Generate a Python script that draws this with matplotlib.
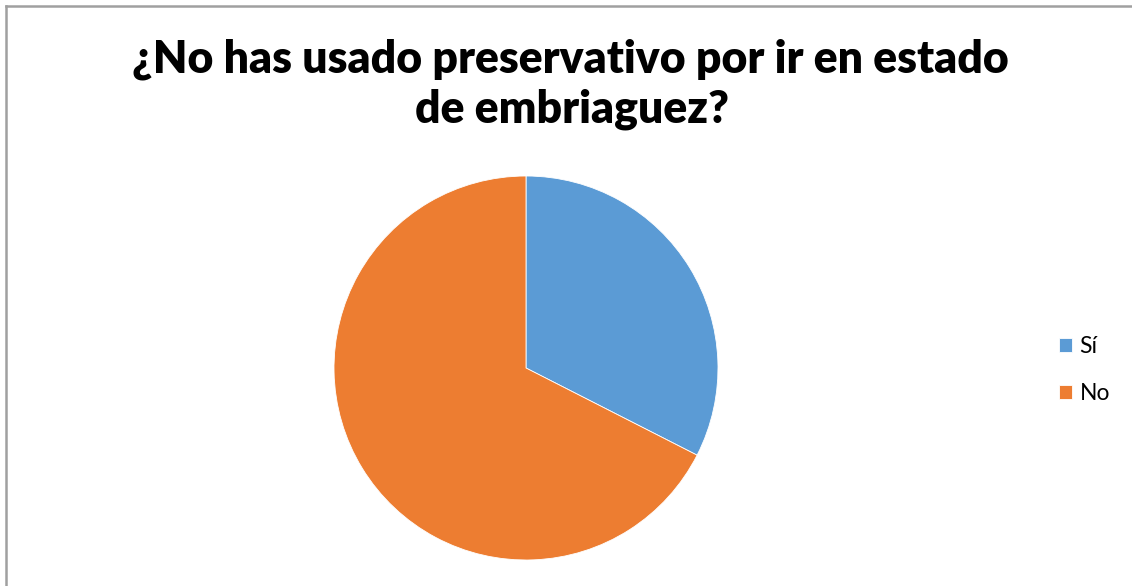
import matplotlib
matplotlib.use("Agg")
import matplotlib.pyplot as plt
from matplotlib.lines import Line2D

labels = ["Sí", "No"]
values = [13, 27]
colors = ["#5B9BD5", "#ED7D31"]
title_lines = ["¿No has usado preservativo por ir en estado", "de embriaguez?"]

W, H = 1132, 586
fig = plt.figure(figsize=(W / 100, H / 100), dpi=100)
fig.patch.set_facecolor("white")

# chart area frame (top and left edges visible)
fig.add_artist(Line2D([5.5 / W, 5.5 / W], [0, 1 - 5.5 / H], transform=fig.transFigure,
                      color="#A0A0A0", lw=1.8))
fig.add_artist(Line2D([5.5 / W, 1], [1 - 5.5 / H, 1 - 5.5 / H], transform=fig.transFigure,
                      color="#A0A0A0", lw=1.8))

# pie
cx, cy, r = 526, 368, 192
ax = fig.add_axes([(cx - r) / W, (H - cy - r) / H, 2 * r / W, 2 * r / H])
wedges, _ = ax.pie(values, colors=colors, startangle=90, counterclock=False,
                   wedgeprops=dict(edgecolor="white", linewidth=0.6))
ax.set_aspect("equal")
ax.set_xlim(-1, 1)
ax.set_ylim(-1, 1)
ax.axis("off")

# title
font = "Lato"
t1 = fig.text(570 / W, 1 - 73 / H, title_lines[0], ha="center", va="baseline",
              fontsize=30, fontweight="heavy", family=font, color="black")
t2 = fig.text(572 / W, 1 - 123 / H, title_lines[1], ha="center", va="baseline",
              fontsize=30, fontweight="heavy", family=font, color="black")
fig.canvas.draw()
w = t1.get_window_extent().width
scale = 875 / w
t1.set_fontsize(30 * scale)
t2.set_fontsize(30 * scale)

# legend
fig.legend(wedges, labels, loc="center left", bbox_to_anchor=(1059 / W, 1 - 370 / H),
           frameon=False, borderpad=0, borderaxespad=0, handlelength=0.55,
           handleheight=0.55, handletextpad=0.35, labelspacing=1.15,
           prop=dict(family=font, size=16.5))

fig.savefig("out.png", dpi=100, facecolor="white")
